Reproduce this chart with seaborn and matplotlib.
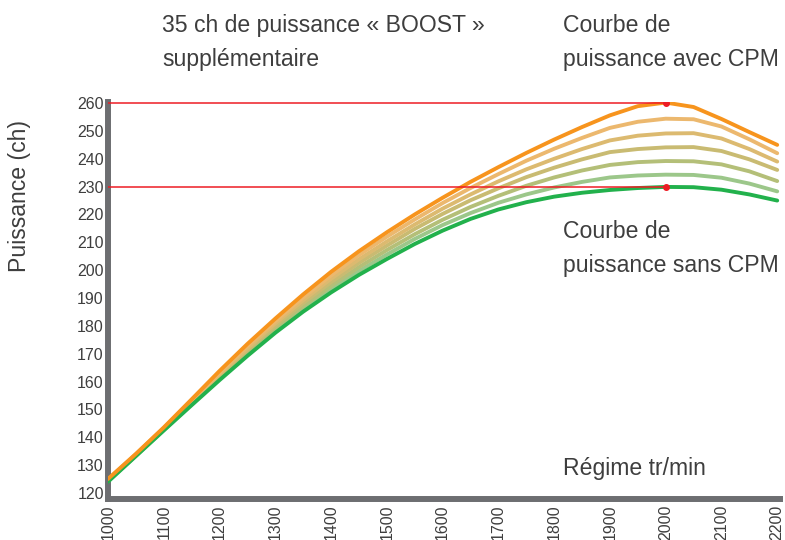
import matplotlib
matplotlib.use("Agg")
import matplotlib.pyplot as plt
import seaborn as sns
import numpy as np
import pandas as pd

# régime moteur (tr/min)
rpm = list(range(1000, 2201, 50))

# courbes de puissance (ch), de "avec CPM" à "sans CPM"
avec_cpm = [125, 134, 143.5, 153.6, 163.8, 173.5, 182.6, 191.3, 199.4, 206.8,
            213.6, 220, 226, 231.7, 237, 242.1, 246.9, 251.4, 255.6, 258.9,
            260.2, 258.6, 254.3, 249.6, 245]
etape_1 = [124.8, 133.9, 143.3, 153.2, 163.2, 172.8, 181.7, 190.2, 198.1, 205.4,
           212, 218.2, 224.1, 229.5, 234.5, 239.3, 243.6, 247.5, 251.1, 253.3,
           254.4, 254.2, 251.6, 247, 242]
etape_2 = [124.7, 133.7, 143.1, 152.9, 162.7, 172, 180.9, 189.2, 196.9, 203.9,
           210.3, 216.4, 222.1, 227.2, 231.9, 236.2, 240, 243.5, 246.6, 248.3,
           249.1, 249.2, 247.3, 243.5, 239]
etape_3 = [124.5, 133.6, 143, 152.6, 162.2, 171.4, 180.1, 188.2, 195.7, 202.6,
           208.8, 214.8, 220.2, 225.1, 229.4, 233.4, 236.8, 239.8, 242.4, 243.5,
           244.1, 244.2, 242.8, 239.8, 236]
etape_4 = [124.3, 133.5, 142.8, 152.2, 161.6, 170.6, 179.2, 187.1, 194.4, 201.1,
           207.2, 212.9, 218.1, 222.7, 226.7, 230.3, 233.3, 235.8, 237.8, 238.8,
           239.2, 239.1, 238, 235.5, 232]
etape_5 = [124.2, 133.3, 142.6, 151.9, 161.1, 169.9, 178.4, 186.2, 193.3, 199.7,
           205.6, 211.2, 216.2, 220.5, 224.2, 227.2, 229.7, 231.7, 233.3, 234,
           234.3, 234.2, 233.2, 231.1, 228.3]
sans_cpm = [124, 133.2, 142.4, 151.5, 160.5, 169.2, 177.5, 185.1, 192, 198.3,
            204, 209.4, 214.2, 218.4, 221.8, 224.4, 226.4, 227.8, 228.8, 229.5,
            229.9, 229.8, 228.9, 227.2, 225]

boost_rpm = 2000
boost_levels = [260, 230]

y_ticks = list(range(120, 261, 10))
x_ticks = list(range(1000, 2201, 100))

series = {
    "etape_5": etape_5, "etape_4": etape_4, "etape_3": etape_3,
    "etape_2": etape_2, "etape_1": etape_1,
    "sans_cpm": sans_cpm, "avec_cpm": avec_cpm,
}
colors = {
    "etape_5": "#9cc78a", "etape_4": "#b4bf78", "etape_3": "#c9bb72",
    "etape_2": "#dcba70", "etape_1": "#ecb86e",
    "sans_cpm": "#22b14c", "avec_cpm": "#f7941d",
}

rows = []
for name, vals in series.items():
    for r, v in zip(rpm, vals):
        rows.append({"rpm": r, "ch": v, "courbe": name})
df = pd.DataFrame(rows)

sns.set_theme(style="white")
plt.rcParams["font.family"] = ["Liberation Sans", "DejaVu Sans"]
text_color = "#3e3e3e"
grey = "#6d6e71"
red = "#ed1c24"

fig = plt.figure(figsize=(7.85, 5.4), dpi=100)
ax = fig.add_axes([108 / 785, 1 - 499 / 540, 672 / 785, 397 / 540])

sns.lineplot(data=df, x="rpm", y="ch", hue="courbe", hue_order=list(series),
             palette=colors, linewidth=2.8, legend=False, ax=ax,
             sort=False, estimator=None)
for line in ax.lines:
    line.set_solid_joinstyle("round")

for lvl in boost_levels:
    ax.plot([rpm[0], boost_rpm], [lvl, lvl], color=red, lw=1.1, zorder=5)
    ax.plot([boost_rpm], [lvl], "o", color=red, ms=4, zorder=6)

ax.set_xlim(1000, 2205)
ax.set_ylim(117.8, 260.4)
ax.set_xticks(x_ticks)
ax.set_yticks(y_ticks)
ax.set_xticklabels([str(t) for t in x_ticks], rotation=90, va="top")
ax.tick_params(axis="both", length=0, labelsize=11.5, colors=text_color)
ax.tick_params(axis="x", pad=4)
ax.tick_params(axis="y", pad=3)
ax.set_xlabel("")
ax.set_ylabel("")

sns.despine(ax=ax)
for side in ["left", "bottom"]:
    ax.spines[side].set_color(grey)
    ax.spines[side].set_linewidth(4.3)
    ax.spines[side].set_zorder(1)

fs = 16.6
fig.text(20 / 785, 1 - 196 / 540, "Puissance (ch)", rotation=90,
         ha="center", va="center", fontsize=fs, color=text_color)
fig.text(162 / 785, 1 - 32 / 540, "35 ch de puissance « BOOST »",
         ha="left", va="baseline", fontsize=fs, color=text_color)
fig.text(162 / 785, 1 - 66 / 540, "supplémentaire",
         ha="left", va="baseline", fontsize=fs, color=text_color)
fig.text(563 / 785, 1 - 32 / 540, "Courbe de",
         ha="left", va="baseline", fontsize=fs, color=text_color)
fig.text(563 / 785, 1 - 66 / 540, "puissance avec CPM",
         ha="left", va="baseline", fontsize=fs, color=text_color)
fig.text(563 / 785, 1 - 238 / 540, "Courbe de",
         ha="left", va="baseline", fontsize=fs, color=text_color)
fig.text(563 / 785, 1 - 272 / 540, "puissance sans CPM",
         ha="left", va="baseline", fontsize=fs, color=text_color)
fig.text(563 / 785, 1 - 475 / 540, "Régime tr/min",
         ha="left", va="baseline", fontsize=fs, color=text_color)

fig.savefig("out.png", dpi=100)
